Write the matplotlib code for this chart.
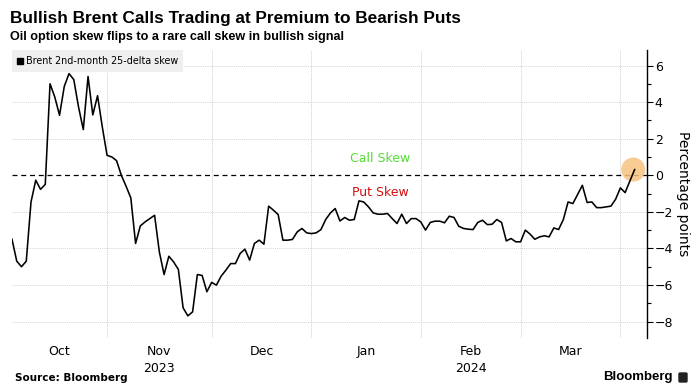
import matplotlib
matplotlib.use("Agg")
import matplotlib.pyplot as plt
import matplotlib.patches as mpatches
import pandas as pd
import numpy as np

# ---- data ----
dates = pd.bdate_range("2023-10-04", "2024-04-04")
skew = [
    -3.5, -4.7, -5.0, -4.7, -1.46, -0.27, -0.77, -0.5, 5.0, 4.28,
    3.28, 4.86, 5.56, 5.23, 3.73, 2.5, 5.4, 3.3, 4.35, 2.64,
    1.09, 1.0, 0.8, 0.0, -0.6, -1.24, -3.73, -2.77, -2.55, -2.37,
    -2.19, -4.19, -5.43, -4.43, -4.74, -5.15, -7.25, -7.69, -7.47, -5.43,
    -5.48, -6.37, -5.86, -6.01, -5.52, -5.19, -4.83, -4.83, -4.28, -4.04,
    -4.64, -3.73, -3.55, -3.77, -1.69, -1.91, -2.15, -3.55, -3.55, -3.51,
    -3.1, -2.91, -3.15, -3.19, -3.15, -2.97, -2.42, -2.06, -1.82, -2.5,
    -2.31, -2.46, -2.42, -1.4, -1.46, -1.73, -2.06, -2.13, -2.13, -2.09,
    -2.37, -2.64, -2.13, -2.64, -2.37, -2.37, -2.55, -3.0, -2.58, -2.51,
    -2.51, -2.6, -2.24, -2.31, -2.79, -2.91, -2.95, -2.97, -2.58, -2.46,
    -2.7, -2.68, -2.42, -2.58, -3.59, -3.46, -3.64, -3.64, -3.0, -3.22,
    -3.5, -3.37, -3.31, -3.37, -2.88, -2.97, -2.42, -1.46, -1.55, -1.05,
    -0.55, -1.49, -1.46, -1.77, -1.77, -1.73, -1.69, -1.31, -0.69, -0.95,
    -0.31, 0.31,
]
series_label = "Brent 2nd-month 25-delta skew"
yticks = [6, 4, 2, 0, -2, -4, -6, -8]
title = "Bullish Brent Calls Trading at Premium to Bearish Puts"
subtitle = "Oil option skew flips to a rare call skew in bullish signal"

n = min(len(dates), len(skew))
dates = dates[:n]
skew = skew[:n]
idx = np.arange(n)

W, H = 697, 391
fig = plt.figure(figsize=(W / 100, H / 100), dpi=100)
fig.patch.set_facecolor("white")

L, R, T, B = 12, 647, 50, 338
ax = fig.add_axes([L / W, 1 - B / H, (R - L) / W, (B - T) / H])
ax.set_facecolor("white")

ax.plot(idx, skew, color="black", lw=1.15, zorder=3)
ax.axhline(0, color="black", lw=0.9, ls=(0, (4, 3)), zorder=2)
ax.scatter([idx[-1] - 0.3], [skew[-1]], s=300, color="#f6c27e", alpha=0.85,
           zorder=2, edgecolors="none")

ax.set_xlim(0, 133.6)
ax.set_ylim(-8.9, 6.85)

# month boundaries (first trading day of each month)
months = pd.Series(dates.to_period("M"))
starts = [i for i in range(1, n) if months[i] != months[i - 1]]
for s in starts:
    ax.axvline(s, color="#d0d0d0", lw=0.7, ls=(0, (1, 1)), zorder=1)
bounds = [0] + starts
ends = starts + [None]
label_pos, label_txt = [], []
for b, e in zip(bounds, ends):
    if e is None:
        continue
    label_pos.append((b + e) / 2)
    label_txt.append(dates[b].strftime("%b"))
ax.set_xticks(label_pos)
ax.set_xticklabels(label_txt)
ax.tick_params(axis="x", length=0, labelsize=9, pad=5)
for p, t in zip(label_pos, label_txt):
    i = int(p)
    if t in ("Nov", "Feb"):
        yr = dates[i].strftime("%Y")
        ax.text(p, -0.085, yr, transform=ax.get_xaxis_transform(), ha="center",
                va="top", fontsize=9)

for v in yticks:
    if v != 0:
        ax.axhline(v, color="#d5d5d5", lw=0.7, ls=(0, (1, 1)), zorder=1)

ax.yaxis.tick_right()
ax.yaxis.set_label_position("right")
ax.set_yticks(yticks)
ax.set_yticks([5, 3, 1, -1, -3, -5, -7], minor=True)
ax.tick_params(axis="y", which="major", length=4, width=0.8, labelsize=9, pad=1.5,
               direction="out")
ax.tick_params(axis="y", which="minor", length=3, width=0.8, direction="out")
ax.set_ylabel("Percentage points", rotation=270, fontsize=10, labelpad=12)

for side in ("top", "left", "bottom"):
    ax.spines[side].set_visible(False)
ax.spines["right"].set_linewidth(1.0)

ax.text(77.5, 0.9, "Call Skew", color="#55dd33", fontsize=9, ha="center",
        va="center")
ax.text(77.5, -0.95, "Put Skew", color="#d01010", fontsize=9, ha="center",
        va="center")

# legend box
leg_ax = fig.add_axes([12 / W, 1 - 72 / H, (183 - 12) / W, 22 / H])
leg_ax.set_xlim(0, 1)
leg_ax.set_ylim(0, 1)
leg_ax.axis("off")
leg_ax.add_patch(mpatches.Rectangle((0, 0), 1, 1, color="#efefef", zorder=0))
leg_ax.add_patch(mpatches.Rectangle((0.03, 0.35), 0.035, 0.3, color="black"))
leg_ax.text(0.08, 0.5, series_label, fontsize=6.9, va="center", ha="left")

fig.text(10 / W, 1 - 18 / H, title, fontsize=12.4, fontweight="bold",
         family="Liberation Sans", va="center", ha="left")
fig.text(10 / W, 1 - 37 / H, subtitle, fontsize=9.1, fontweight="bold",
         family="Liberation Sans", va="center", ha="left")
fig.text(15 / W, 1 - 378 / H, "Source: Bloomberg", fontsize=7.5,
         fontweight="bold", va="center", ha="left")
fig.text(673 / W, 1 - 377 / H, "Bloomberg", fontsize=9.5, fontweight="bold",
         va="center", ha="right", family="Liberation Sans")
fig.patches.append(mpatches.FancyBboxPatch((679 / W, 1 - 382 / H), 8 / W, 9 / H,
                   boxstyle="round,pad=0,rounding_size=0.002",
                   transform=fig.transFigure, color="#222222"))

fig.savefig("out.png", dpi=100)
